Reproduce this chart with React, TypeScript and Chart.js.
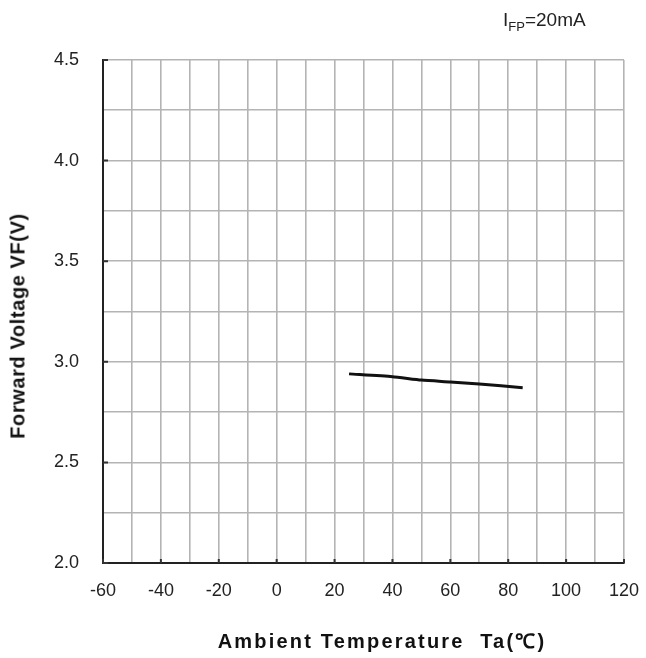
import React, { useEffect, useRef } from "react";
import { Chart, registerables } from "chart.js";

Chart.register(...registerables);

const temperatures = [25, 40, 50, 60, 70, 85];
const forwardVoltage = [2.94, 2.926, 2.909, 2.9, 2.89, 2.871];
const xMin = -60;
const xMax = 120;
const yMin = 2.0;
const yMax = 4.5;
const xLabelStep = 20;
const yLabelStep = 0.5;
const xTitle = "Ambient Temperature  Ta(\u2103)";
const yTitle = "Forward Voltage VF(V)";

const FONT = "'Liberation Sans', Arial, sans-serif";

const innerTicks = {
  id: "innerTicks",
  afterDraw(chart: any) {
    const { ctx, chartArea, scales } = chart;
    ctx.save();
    ctx.strokeStyle = "#333";
    ctx.lineWidth = 2;
    ctx.beginPath();
    for (let v = xMin; v <= xMax + 1e-9; v += xLabelStep) {
      const px = scales.x.getPixelForValue(v);
      ctx.moveTo(px, chartArea.bottom);
      ctx.lineTo(px, chartArea.bottom - 4);
    }
    for (let v = yMin; v <= yMax + 1e-9; v += yLabelStep) {
      const py = scales.y.getPixelForValue(v);
      ctx.moveTo(chartArea.left, py);
      ctx.lineTo(chartArea.left + 5, py);
    }
    ctx.stroke();
    ctx.restore();
  },
};

export default function App() {
  const ref = useRef<HTMLCanvasElement | null>(null);

  useEffect(() => {
    if (!ref.current) return;
    const chart = new Chart(ref.current, {
      type: "line",
      data: {
        datasets: [
          {
            data: temperatures.map((t, i) => ({ x: t, y: forwardVoltage[i] })),
            borderColor: "#111111",
            borderWidth: 3,
            pointRadius: 0,
            tension: 0.2,
            fill: false,
          },
        ],
      },
      plugins: [innerTicks],
      options: {
        animation: false,
        responsive: false,
        maintainAspectRatio: false,
        layout: { padding: { left: 0, top: 60, right: 22, bottom: 0 } },
        plugins: {
          legend: { display: false },
          tooltip: { enabled: false },
          title: { display: false },
        },
        scales: {
          x: {
            type: "linear",
            min: xMin,
            max: xMax,
            afterFit: (s: any) => {
              s.height = 95;
              s.paddingLeft = 0;
              s.paddingRight = 0;
            },
            border: { color: "#222222", width: 2 },
            grid: { color: "#b4b4b4", lineWidth: 1.6, drawTicks: false },
            ticks: {
              stepSize: 10,
              padding: 17,
              color: "#222222",
              font: { family: FONT, size: 18 },
              autoSkip: false,
              maxRotation: 0,
              callback: (v: any) => (Number(v) % xLabelStep === 0 ? String(v) : ""),
            },
          },
          y: {
            type: "linear",
            min: yMin,
            max: yMax,
            afterFit: (s: any) => {
              s.width = 103;
              s.paddingTop = 0;
              s.paddingBottom = 0;
            },
            border: { color: "#222222", width: 2 },
            grid: { color: "#b4b4b4", lineWidth: 1.6, drawTicks: false },
            ticks: {
              stepSize: 0.25,
              padding: 24,
              color: "#222222",
              font: { family: FONT, size: 18 },
              autoSkip: false,
              callback: (v: any) => {
                const n = Number(v);
                return Math.abs(n / yLabelStep - Math.round(n / yLabelStep)) < 1e-6 ? n.toFixed(1) : "";
              },
            },
          },
        },
      },
    });
    return () => chart.destroy();
  }, []);

  return (
    <div style={{ position: "fixed", left: 0, top: 0, width: 646, height: 658, background: "#fff" }}>
      <canvas ref={ref} width={646} height={658} style={{ position: "absolute", left: 0, top: 0, width: 646, height: 658 }} />
      <div
        style={{
          position: "absolute",
          left: 503,
          top: 9,
          fontFamily: FONT,
          fontSize: 19,
          color: "#222",
          whiteSpace: "nowrap",
        }}
      >
        I<sub style={{ fontSize: 13 }}>FP</sub>=20mA
      </div>
      <div
        style={{
          position: "absolute",
          left: 382,
          top: 640,
          transform: "translate(-50%, -50%)",
          fontFamily: FONT,
          fontWeight: "bold",
          fontSize: 20,
          letterSpacing: 2.2,
          color: "#111",
          whiteSpace: "pre",
        }}
      >
        {xTitle}
      </div>
      <div
        style={{
          position: "absolute",
          left: 18,
          top: 326,
          transform: "translate(-50%, -50%) rotate(-90deg)",
          fontFamily: FONT,
          fontWeight: "bold",
          fontSize: 20,
          letterSpacing: 0.6,
          color: "#111",
          whiteSpace: "nowrap",
        }}
      >
        {yTitle}
      </div>
    </div>
  );
}
